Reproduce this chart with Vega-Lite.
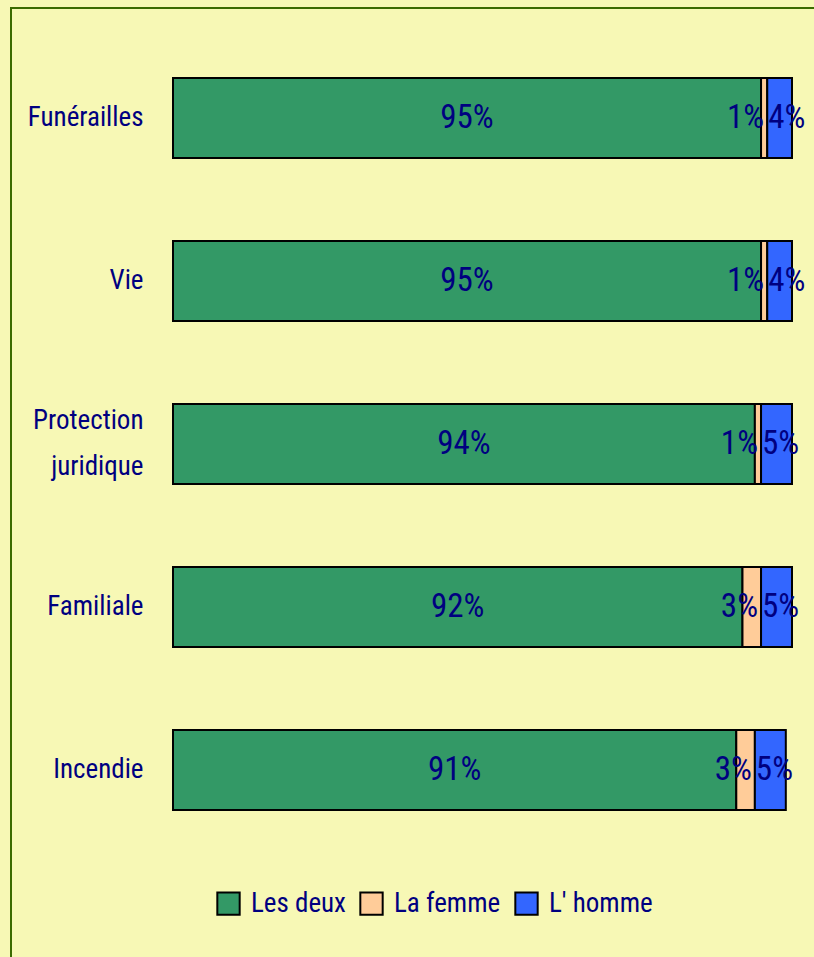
{
  "$schema": "https://vega.github.io/schema/vega-lite/v6.json",
  "width": 820,
  "height": 960,
  "autosize": {"type": "none"},
  "padding": {"left": 11, "top": 8, "right": 0, "bottom": 0},
  "background": "#F7F8B5",
  "config": {
    "view": {"stroke": "#3B6B00", "strokeWidth": 2, "fill": "#F7F8B5"},
    "font": "Roboto Condensed, Liberation Sans Narrow, DejaVu Sans Condensed, sans-serif"
  },
  "data": {
    "values": [
      {"categorie": "Funérailles", "type": "Les deux", "ordre": 1, "valeur": 0.95},
      {"categorie": "Funérailles", "type": "La femme", "ordre": 2, "valeur": 0.01},
      {"categorie": "Funérailles", "type": "L' homme", "ordre": 3, "valeur": 0.04},
      {"categorie": "Vie", "type": "Les deux", "ordre": 1, "valeur": 0.95},
      {"categorie": "Vie", "type": "La femme", "ordre": 2, "valeur": 0.01},
      {"categorie": "Vie", "type": "L' homme", "ordre": 3, "valeur": 0.04},
      {"categorie": "Protection juridique", "type": "Les deux", "ordre": 1, "valeur": 0.94},
      {"categorie": "Protection juridique", "type": "La femme", "ordre": 2, "valeur": 0.01},
      {"categorie": "Protection juridique", "type": "L' homme", "ordre": 3, "valeur": 0.05},
      {"categorie": "Familiale", "type": "Les deux", "ordre": 1, "valeur": 0.92},
      {"categorie": "Familiale", "type": "La femme", "ordre": 2, "valeur": 0.03},
      {"categorie": "Familiale", "type": "L' homme", "ordre": 3, "valeur": 0.05},
      {"categorie": "Incendie", "type": "Les deux", "ordre": 1, "valeur": 0.91},
      {"categorie": "Incendie", "type": "La femme", "ordre": 2, "valeur": 0.03},
      {"categorie": "Incendie", "type": "L' homme", "ordre": 3, "valeur": 0.05}
    ]
  },
  "transform": [
    {"stack": "valeur", "groupby": ["categorie"], "sort": [{"field": "ordre", "order": "ascending"}], "as": ["x0", "x1"]}
  ],
  "resolve": {"axis": {"y": "independent"}},
  "layer": [
    {
      "mark": {"type": "bar", "stroke": "#000000", "strokeWidth": 2, "opacity": 1},
      "encoding": {
        "y": {
          "field": "categorie",
          "type": "nominal",
          "sort": ["Funérailles", "Vie", "Protection juridique", "Familiale", "Incendie"],
          "scale": {"range": [28.5, 843.5], "paddingInner": 0.51, "paddingOuter": 0.255},
          "axis": {
            "title": null,
            "orient": "left",
            "offset": -137,
            "labelPadding": 5,
            "ticks": false,
            "domain": false,
            "labelFontSize": 27,
            "labelColor": "#000080",
            "labelLimit": 300,
            "labelExpr": "datum.label == 'Protection juridique' ? '' : datum.label"
          }
        },
        "x": {"field": "x0", "type": "quantitative", "scale": {"domain": [0, 1], "range": [162, 781], "nice": false, "zero": false}, "axis": null},
        "x2": {"field": "x1"},
        "color": {
          "field": "type",
          "type": "nominal",
          "scale": {"domain": ["Les deux", "La femme", "L' homme"], "range": ["#339966", "#FFCC99", "#3366FF"]},
          "legend": {
            "title": null,
            "orient": "none",
            "direction": "horizontal",
            "legendX": 204,
            "legendY": 882,
            "symbolType": "square",
            "symbolSize": 500,
            "symbolStrokeColor": "#000000",
            "symbolStrokeWidth": 2,
            "symbolOpacity": 1,
            "labelFontSize": 27,
            "labelColor": "#000080",
            "labelOffset": 9,
            "columnPadding": 10,
            "labelLimit": 300
          }
        }
      }
    },
    {
      "transform": [
        {"filter": {"field": "type", "equal": "Les deux"}},
        {"fold": ["x0", "x1"], "as": ["bord", "pos"]}
      ],
      "mark": {"type": "text", "fontSize": 33, "color": "#000080", "align": "center", "baseline": "middle"},
      "encoding": {
        "y": {
          "field": "categorie",
          "type": "nominal",
          "sort": ["Funérailles", "Vie", "Protection juridique", "Familiale", "Incendie"],
          "axis": {
            "title": null,
            "orient": "left",
            "offset": -137,
            "labelPadding": 5,
            "ticks": false,
            "domain": false,
            "labelFontSize": 27,
            "labelColor": "#000080",
            "labelLimit": 300,
            "labelLineHeight": 46,
            "labelOffset": -23,
            "labelExpr": "datum.label == 'Protection juridique' ? ['Protection', 'juridique'] : ''"
          }
        },
        "x": {"field": "pos", "aggregate": "mean", "type": "quantitative"},
        "text": {"field": "valeur", "aggregate": "max", "type": "quantitative", "format": ".0%"}
      }
    },
    {
      "transform": [{"filter": {"field": "type", "equal": "La femme"}}],
      "mark": {"type": "text", "fontSize": 33, "color": "#000080", "align": "right", "baseline": "middle", "dx": -3},
      "encoding": {
        "y": {"field": "categorie", "type": "nominal", "sort": ["Funérailles", "Vie", "Protection juridique", "Familiale", "Incendie"], "axis": null},
        "x": {"field": "x1", "type": "quantitative"},
        "text": {"field": "valeur", "type": "quantitative", "format": ".0%"}
      }
    },
    {
      "transform": [{"filter": {"field": "type", "equal": "L' homme"}}],
      "mark": {"type": "text", "fontSize": 33, "color": "#000080", "align": "left", "baseline": "middle", "dx": 1},
      "encoding": {
        "y": {"field": "categorie", "type": "nominal", "sort": ["Funérailles", "Vie", "Protection juridique", "Familiale", "Incendie"], "axis": null},
        "x": {"field": "x0", "type": "quantitative"},
        "text": {"field": "valeur", "type": "quantitative", "format": ".0%"}
      }
    }
  ]
}
